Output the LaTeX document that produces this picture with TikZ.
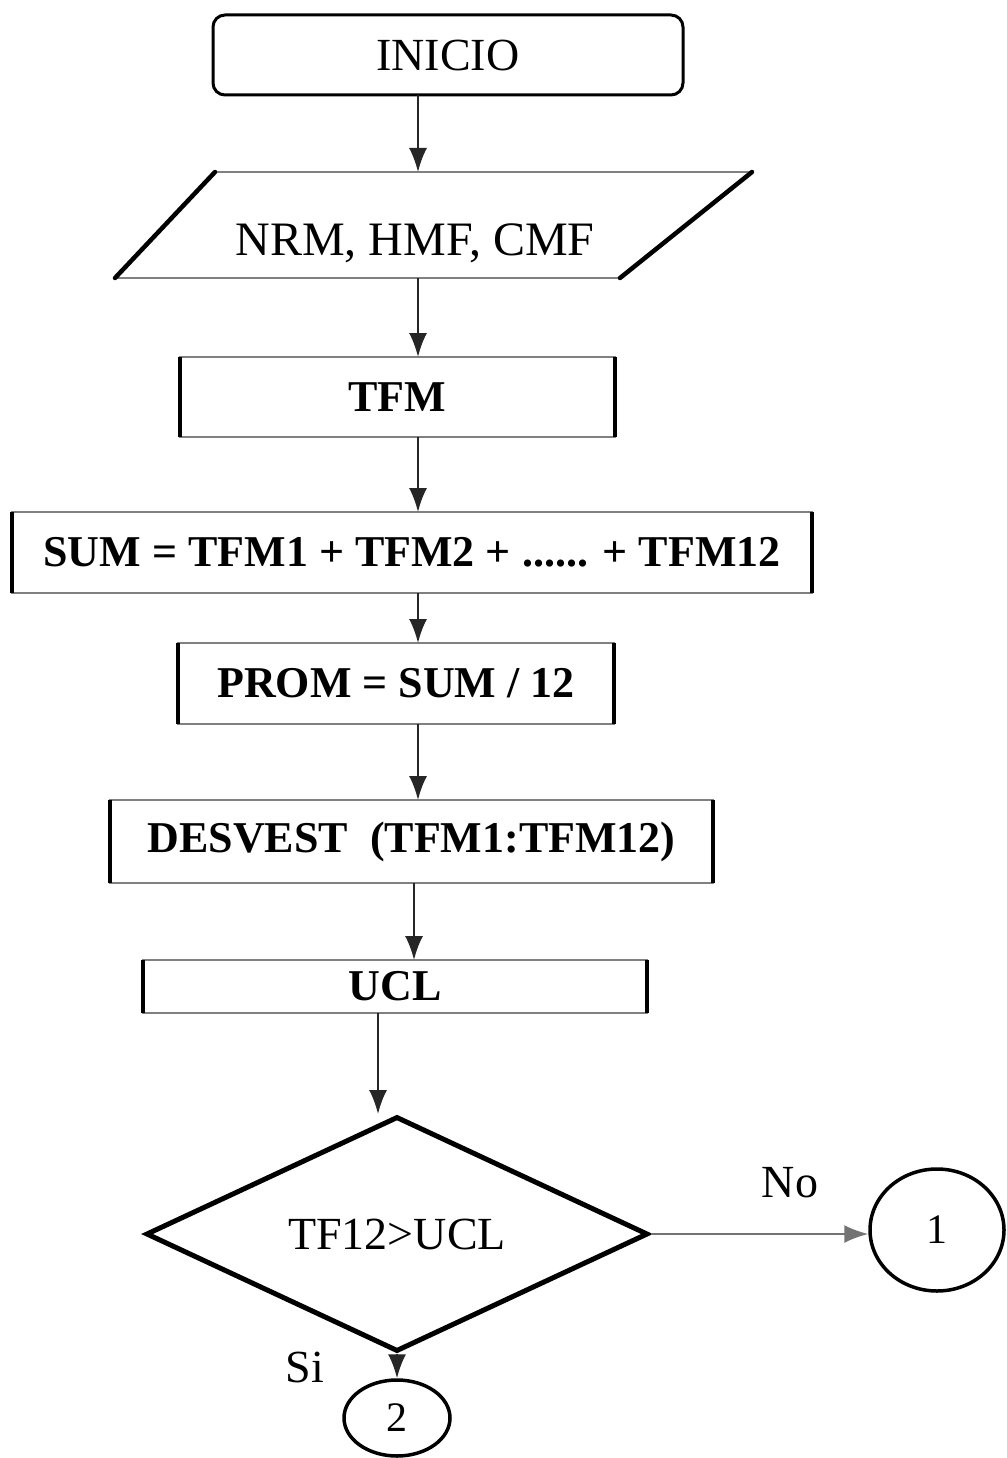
\documentclass[tikz,border=0pt]{standalone}
\usepackage{fontspec}
\setmainfont{Liberation Serif}
\usetikzlibrary{shapes.geometric,arrows.meta}
\begin{document}
\begin{tikzpicture}[x=1pt,y=-1pt,
  box/.style={draw=black!50,line width=2.2pt,rectangle,inner sep=0pt,outer sep=0pt},
  sidebar/.style={line width=4.5pt,black},
  arr/.style={draw=black!85,line width=2pt,-{Latex[length=24pt,width=18pt]}},
  bt/.style={font=\fontsize{44}{50}\selectfont\bfseries},
  rt/.style={font=\fontsize{46}{52}\selectfont},
  conn/.style={ellipse,draw=black,line width=3.5pt,inner sep=0pt,font=\fontsize{42}{48}\selectfont}]
\path[use as bounding box] (0,0) rectangle (1006,1458);

% start
\node[box,draw=black,line width=3pt,rounded corners=12pt,minimum width=470pt,minimum height=80pt,rt] (ini) at (448,55) {INICIO};

% input parallelogram
\coordinate (pTL) at (215,172);
\coordinate (pTR) at (752,172);
\coordinate (pBR) at (620,278);
\coordinate (pBL) at (115,278);
\draw[black!50,line width=2.2pt] (pTL) -- (pTR) (pBL) -- (pBR);
\draw[sidebar,line cap=round] (pTL) -- (pBL) (pTR) -- (pBR);
\node[font=\fontsize{48}{54}\selectfont] (paratxt) at (415,243) {NRM, HMF, CMF};
\coordinate (paraT) at (418,172);
\coordinate (paraB) at (418,278);

% process boxes
\node[box,minimum width=435pt,minimum height=80pt,bt] (tfm) at (397.5,397) {TFM};
\node[box,minimum width=800pt,minimum height=81pt,bt] (sum) at (412,552.5) {SUM = TFM1 + TFM2 + ...... + TFM12};
\node[box,minimum width=436pt,minimum height=81pt,bt] (prom) at (396,683.5) {PROM = SUM / 12};
\node[box,minimum width=603pt,minimum height=83pt,bt] (desv) at (411.5,841.5) {DESVEST\ \ (TFM1:TFM12)};
\node[box,minimum width=504pt,minimum height=53pt,bt] (ucl) at (395,986.5) {UCL};

% decision and connectors
\node[diamond,draw=black,line width=5pt,minimum width=502pt,minimum height=235pt,aspect=2.14,inner sep=0pt,rt] (dia) at (397,1234) {TF12>UCL};
\node[conn,minimum width=134pt,minimum height=122pt] (c1) at (937,1230) {1};
\node[conn,minimum width=106pt,minimum height=76pt] (c2) at (397,1418) {2};
\node[rt] (nolab) at (790,1183) {No};
\node[rt] (silab) at (305,1367) {Si};

% thick vertical sides
\foreach \n in {tfm,sum,prom,desv,ucl}{
  \draw[sidebar] (\n.north west) -- (\n.south west) (\n.north east) -- (\n.south east);
}

% column coordinates
\coordinate (cA) at (418,0);
\coordinate (cB) at (414,0);
\coordinate (cC) at (378,0);

% connectors
\draw[arr] (ini.south -| cA) -- (paraT);
\draw[arr] (paraB) -- (tfm.north -| cA);
\draw[arr] (tfm.south -| cA) -- (sum.north -| cA);
\draw[arr] (sum.south -| cA) -- (prom.north -| cA);
\draw[arr] (prom.south -| cA) -- (desv.north -| cA);
\draw[arr] (desv.south -| cB) -- (ucl.north -| cB);
\draw[arr] (ucl.south -| cC) -- (dia.north -| cC);
\draw[arr,draw=black!55] (dia.east) -- (dia.east -| c1.west);
\draw[arr] (dia.south) -- (c2.north);
\end{tikzpicture}
\end{document}
